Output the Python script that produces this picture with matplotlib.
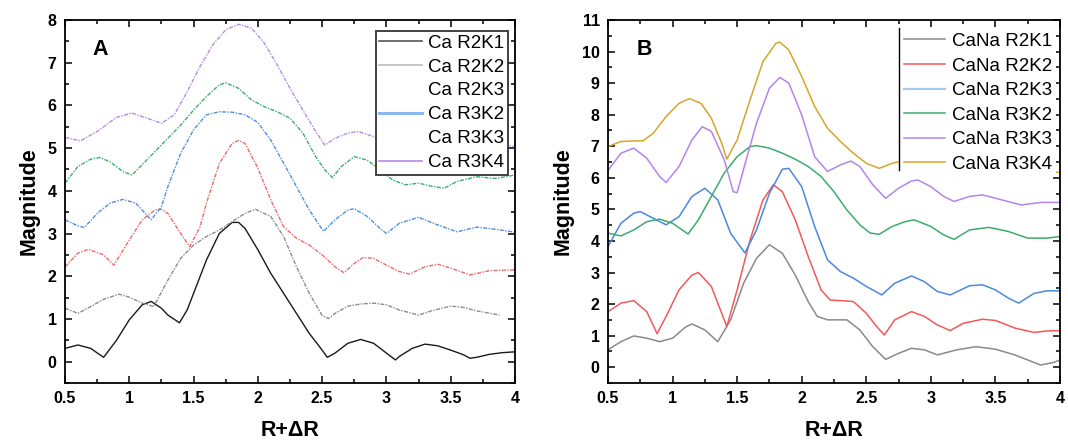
import matplotlib
matplotlib.use("Agg")
import matplotlib.pyplot as plt
from matplotlib.lines import Line2D
from matplotlib.ticker import MultipleLocator

plt.rcParams['font.family'] = ['Liberation Sans', 'DejaVu Sans']

# ---- panel A (Ca) ----
a_r2k1_x = [0.5, 0.6, 0.7, 0.8, 0.9, 1.0, 1.1, 1.17, 1.25, 1.3, 1.39, 1.45, 1.5, 1.6, 1.7, 1.8, 1.85, 1.9,
            2.0, 2.1, 2.2, 2.3, 2.4, 2.5, 2.54, 2.6, 2.7, 2.8, 2.9, 3.0, 3.07, 3.1, 3.2, 3.3, 3.4, 3.5,
            3.6, 3.65, 3.7, 3.8, 3.9, 4.0]
a_r2k1_y = [0.31, 0.39, 0.31, 0.10, 0.50, 0.98, 1.33, 1.41, 1.25, 1.09, 0.91, 1.21, 1.60, 2.38, 3.00, 3.26,
            3.26, 3.12, 2.62, 2.07, 1.60, 1.13, 0.66, 0.27, 0.10, 0.20, 0.43, 0.52, 0.43, 0.20, 0.04, 0.12,
            0.31, 0.41, 0.37, 0.27, 0.16, 0.08, 0.10, 0.17, 0.21, 0.23]

a_r2k2_x = [0.5, 0.6, 0.7, 0.8, 0.92, 1.0, 1.1, 1.19, 1.3, 1.4, 1.5, 1.6, 1.7, 1.8, 1.9, 1.98, 2.1, 2.2,
            2.3, 2.4, 2.5, 2.55, 2.6, 2.7, 2.8, 2.9, 3.0, 3.1, 3.25, 3.35, 3.5, 3.6, 3.7, 3.88]
a_r2k2_y = [1.25, 1.13, 1.29, 1.46, 1.58, 1.51, 1.37, 1.29, 1.91, 2.42, 2.73, 2.93, 3.08, 3.28, 3.47, 3.57,
            3.40, 2.93, 2.22, 1.60, 1.08, 1.01, 1.13, 1.30, 1.35, 1.37, 1.33, 1.21, 1.09, 1.19, 1.30, 1.27,
            1.19, 1.09]

a_r2k3_x = [0.5, 0.6, 0.68, 0.8, 0.88, 1.0, 1.1, 1.2, 1.25, 1.3, 1.4, 1.47, 1.55, 1.6, 1.7, 1.8, 1.85, 1.9,
            2.0, 2.1, 2.2, 2.3, 2.4, 2.5, 2.6, 2.67, 2.75, 2.82, 2.9, 3.0, 3.1, 3.18, 3.3, 3.4, 3.5, 3.65,
            3.8, 4.0]
a_r2k3_y = [2.22, 2.54, 2.63, 2.50, 2.26, 2.85, 3.32, 3.55, 3.57, 3.47, 3.00, 2.69, 3.16, 3.71, 4.64, 5.11,
            5.18, 5.11, 4.53, 3.79, 3.16, 2.89, 2.73, 2.50, 2.22, 2.08, 2.30, 2.44, 2.42, 2.26, 2.11, 2.05,
            2.22, 2.28, 2.19, 2.03, 2.13, 2.15]

a_r3k2_x = [0.5, 0.6, 0.65, 0.75, 0.85, 0.95, 1.05, 1.1, 1.17, 1.25, 1.3, 1.4, 1.5, 1.6, 1.7, 1.8, 1.9, 2.0,
            2.1, 2.2, 2.3, 2.4, 2.51, 2.6, 2.7, 2.75, 2.85, 2.95, 3.0, 3.1, 3.25, 3.4, 3.55, 3.7, 3.85, 4.0]
a_r3k2_y = [3.32, 3.18, 3.14, 3.47, 3.71, 3.80, 3.71, 3.55, 3.32, 3.63, 4.10, 4.88, 5.43, 5.78, 5.85, 5.84,
            5.78, 5.60, 5.19, 4.65, 4.10, 3.55, 3.05, 3.32, 3.55, 3.58, 3.40, 3.12, 3.00, 3.24, 3.38, 3.20,
            3.04, 3.15, 3.10, 3.03]

a_r3k3_x = [0.5, 0.6, 0.7, 0.77, 0.85, 0.95, 1.02, 1.1, 1.2, 1.3, 1.4, 1.5, 1.6, 1.7, 1.75, 1.85, 1.95, 2.05,
            2.15, 2.25, 2.35, 2.45, 2.52, 2.58, 2.65, 2.75, 2.85, 2.95, 3.05, 3.15, 3.25, 3.35, 3.45, 3.55,
            3.7, 3.85, 4.0]
a_r3k3_y = [4.18, 4.57, 4.74, 4.78, 4.68, 4.45, 4.37, 4.61, 4.92, 5.23, 5.54, 5.89, 6.21, 6.48, 6.53, 6.40,
            6.13, 5.97, 5.85, 5.70, 5.35, 4.80, 4.49, 4.31, 4.57, 4.80, 4.72, 4.49, 4.25, 4.14, 4.18, 4.11,
            4.06, 4.22, 4.33, 4.29, 4.37]

a_r3k4_x = [0.5, 0.62, 0.75, 0.9, 1.02, 1.12, 1.25, 1.35, 1.45, 1.55, 1.65, 1.75, 1.85, 1.95, 2.05, 2.15,
            2.25, 2.35, 2.45, 2.52, 2.6, 2.7, 2.78, 2.9, 3.0, 3.1, 3.25, 3.4, 3.55, 3.7, 3.85, 4.0]
a_r3k4_y = [5.25, 5.17, 5.39, 5.72, 5.82, 5.72, 5.58, 5.78, 6.32, 6.91, 7.42, 7.77, 7.90, 7.81, 7.46, 6.95,
            6.40, 5.89, 5.39, 5.07, 5.23, 5.35, 5.39, 5.27, 5.12, 5.05, 5.20, 5.25, 5.10, 5.05, 5.12, 5.03]

# ---- panel B (CaNa) ----
b_r2k1_x = [0.5, 0.6, 0.7, 0.8, 0.9, 1.0, 1.1, 1.15, 1.25, 1.35, 1.45, 1.55, 1.65, 1.75, 1.85, 1.95, 2.05,
            2.12, 2.2, 2.35, 2.45, 2.55, 2.65, 2.75, 2.85, 2.95, 3.05, 3.2, 3.35, 3.5, 3.65, 3.75, 3.85,
            3.95, 4.0]
b_r2k1_y = [0.55, 0.81, 0.99, 0.92, 0.81, 0.92, 1.27, 1.37, 1.18, 0.81, 1.50, 2.66, 3.45, 3.88, 3.61, 2.92,
            2.08, 1.61, 1.50, 1.50, 1.18, 0.65, 0.25, 0.44, 0.60, 0.55, 0.39, 0.55, 0.65, 0.57, 0.39, 0.23,
            0.07, 0.15, 0.23]

b_r2k2_x = [0.5, 0.6, 0.7, 0.8, 0.88, 0.95, 1.05, 1.15, 1.2, 1.3, 1.42, 1.5, 1.6, 1.7, 1.78, 1.85, 1.95,
            2.05, 2.15, 2.22, 2.3, 2.4, 2.5, 2.58, 2.64, 2.72, 2.85, 2.95, 3.05, 3.15, 3.25, 3.4, 3.5, 3.65,
            3.8, 3.9, 4.0]
b_r2k2_y = [1.76, 2.03, 2.11, 1.76, 1.06, 1.61, 2.45, 2.92, 3.00, 2.56, 1.29, 2.45, 4.03, 5.30, 5.78, 5.56,
            4.67, 3.51, 2.45, 2.13, 2.11, 2.08, 1.71, 1.29, 1.02, 1.50, 1.76, 1.61, 1.34, 1.16, 1.39, 1.52,
            1.48, 1.24, 1.10, 1.15, 1.16]

b_r2k3_x = [0.5, 0.6, 0.7, 0.75, 0.85, 0.95, 1.05, 1.15, 1.25, 1.35, 1.45, 1.56, 1.65, 1.75, 1.85, 1.9,
            2.0, 2.1, 2.2, 2.3, 2.4, 2.5, 2.62, 2.72, 2.85, 2.95, 3.05, 3.15, 3.3, 3.4, 3.5, 3.6, 3.68, 3.8,
            3.9, 4.0]
b_r2k3_y = [3.82, 4.56, 4.88, 4.93, 4.72, 4.51, 4.77, 5.41, 5.67, 5.30, 4.24, 3.62, 4.35, 5.51, 6.27, 6.30,
            5.72, 4.46, 3.40, 3.03, 2.82, 2.56, 2.29, 2.66, 2.89, 2.71, 2.40, 2.29, 2.58, 2.61, 2.45, 2.19,
            2.03, 2.34, 2.42, 2.42]

b_r3k2_x = [0.5, 0.6, 0.7, 0.8, 0.9, 1.0, 1.12, 1.2, 1.3, 1.4, 1.5, 1.6, 1.65, 1.75, 1.85, 1.95, 2.05, 2.15,
            2.25, 2.35, 2.45, 2.53, 2.6, 2.7, 2.8, 2.87, 3.0, 3.1, 3.18, 3.3, 3.45, 3.6, 3.75, 3.9, 4.0]
b_r3k2_y = [4.25, 4.16, 4.35, 4.61, 4.69, 4.56, 4.22, 4.67, 5.41, 6.15, 6.67, 6.99, 7.02, 6.94, 6.78, 6.59,
            6.36, 6.04, 5.56, 4.98, 4.51, 4.25, 4.21, 4.46, 4.61, 4.67, 4.46, 4.19, 4.05, 4.35, 4.43, 4.30,
            4.09, 4.09, 4.14]

b_r3k3_x = [0.5, 0.6, 0.7, 0.8, 0.9, 0.95, 1.05, 1.15, 1.23, 1.3, 1.4, 1.47, 1.5, 1.57, 1.65, 1.75, 1.83,
            1.9, 2.0, 2.1, 2.2, 2.3, 2.38, 2.45, 2.55, 2.65, 2.75, 2.85, 2.9, 3.0, 3.1, 3.18, 3.3, 3.4, 3.55,
            3.7, 3.85, 4.0]
b_r3k3_y = [6.23, 6.78, 6.94, 6.62, 6.04, 5.85, 6.36, 7.20, 7.62, 7.47, 6.57, 5.56, 5.53, 6.57, 7.73, 8.84,
            9.18, 9.00, 7.99, 6.67, 6.20, 6.41, 6.53, 6.36, 5.78, 5.35, 5.67, 5.90, 5.93, 5.72, 5.41, 5.25,
            5.41, 5.46, 5.30, 5.14, 5.22, 5.22]

b_r3k4_x = [0.5, 0.6, 0.7, 0.77, 0.85, 0.95, 1.05, 1.13, 1.22, 1.3, 1.38, 1.42, 1.5, 1.6, 1.7, 1.8, 1.83,
            1.9, 2.0, 2.1, 2.2, 2.3, 2.4, 2.5, 2.6, 2.7, 2.8, 2.9, 3.0, 3.1, 3.18, 3.3, 3.4, 3.6, 3.8, 4.0]
b_r3k4_y = [6.99, 7.15, 7.17, 7.17, 7.41, 7.94, 8.36, 8.51, 8.36, 7.89, 7.10, 6.59, 7.20, 8.47, 9.68, 10.26,
            10.30, 10.05, 9.21, 8.26, 7.57, 7.15, 6.78, 6.46, 6.30, 6.46, 6.55, 6.60, 6.45, 6.20, 6.04, 6.20,
            6.25, 6.23, 6.22, 6.17]

a_labels = ['Ca R2K1', 'Ca R2K2', 'Ca R2K3', 'Ca R3K2', 'Ca R3K3', 'Ca R3K4']
b_labels = ['CaNa R2K1', 'CaNa R2K2', 'CaNa R2K3', 'CaNa R3K2', 'CaNa R3K3', 'CaNa R3K4']

a_series = [(a_r2k1_x, a_r2k1_y), (a_r2k2_x, a_r2k2_y), (a_r2k3_x, a_r2k3_y),
            (a_r3k2_x, a_r3k2_y), (a_r3k3_x, a_r3k3_y), (a_r3k4_x, a_r3k4_y)]
b_series = [(b_r2k1_x, b_r2k1_y), (b_r2k2_x, b_r2k2_y), (b_r2k3_x, b_r2k3_y),
            (b_r3k2_x, b_r3k2_y), (b_r3k3_x, b_r3k3_y), (b_r3k4_x, b_r3k4_y)]

a_colors = ['#1a1a1a', '#8c8c8c', '#f06a6a', '#4f8fe6', '#3fae6e', '#b58be8']
b_colors = ['#8a8a8a', '#f05a5a', '#4a88e4', '#3dac6a', '#b385ea', '#d6a62a']
dashdot = (0, (3, 1, 1, 1))

fig = plt.figure(figsize=(10.68, 4.44), dpi=100)
axA = fig.add_axes([0.0609, 0.1374, 0.4213, 0.8176])
axB = fig.add_axes([0.5693, 0.1374, 0.4232, 0.8176])

for i, (x, y) in enumerate(a_series):
    ls = '-' if i == 0 else dashdot
    axA.plot(x, y, color=a_colors[i], lw=1.0, ls=ls)

for i, (x, y) in enumerate(b_series):
    axB.plot(x, y, color=b_colors[i], lw=1.1)

for ax, top in ((axA, 8), (axB, 11)):
    ax.set_xlim(0.5, 4)
    ax.set_ylim(-0.5, top)
    ax.xaxis.set_major_locator(MultipleLocator(0.5))
    ax.xaxis.set_minor_locator(MultipleLocator(0.25))
    ax.yaxis.set_major_locator(MultipleLocator(1))
    ax.yaxis.set_minor_locator(MultipleLocator(0.5))
    ax.xaxis.set_major_formatter(matplotlib.ticker.FuncFormatter(lambda v, p: f'{v:g}'))
    ax.tick_params(which='both', direction='in', top=True, right=True, width=1.1)
    ax.tick_params(which='major', length=5, labelsize=11.5, pad=6)
    ax.tick_params(which='minor', length=3)
    for lab in ax.get_xticklabels() + ax.get_yticklabels():
        lab.set_fontweight('bold')
    for s in ax.spines.values():
        s.set_linewidth(1.3)
    ax.set_xlabel('R+ΔR', fontsize=15.5, fontweight='bold', labelpad=10)
    ax.set_ylabel('Magnitude', fontsize=15.5, fontweight='bold', labelpad=6)

axA.text(0.078, 0.92, 'A', transform=axA.transAxes, fontsize=15.5, fontweight='bold',
         ha='center', va='center')
axB.text(0.08, 0.92, 'B', transform=axB.transAxes, fontsize=15.5, fontweight='bold',
         ha='center', va='center')

# legend A: two entries have no visible line
a_handles = [Line2D([], [], color='#555555', lw=1.2),
             Line2D([], [], color='#bbbbbb', lw=1.2),
             Line2D([], [], color='none'),
             Line2D([], [], color='#8ab8f0', lw=2.2),
             Line2D([], [], color='none'),
             Line2D([], [], color='#b58be8', lw=1.2)]
legA = axA.legend(a_handles, a_labels, loc='upper left', bbox_to_anchor=(0.69, 0.97),
                  borderaxespad=0, fontsize=13.5, frameon=True, fancybox=False,
                  handlelength=2.3, handletextpad=0.3, labelspacing=0.36, borderpad=0.2)
legA.get_frame().set_edgecolor('#333333')
legA.get_frame().set_linewidth(1.3)
legA.get_frame().set_alpha(1)

b_handles = [Line2D([], [], color=c, lw=1.1) for c in b_colors]
b_handles[2] = Line2D([], [], color='#a8c8f4', lw=1.6)
legB = axB.legend(b_handles, b_labels, loc='upper left', bbox_to_anchor=(0.646, 0.975),
                  borderaxespad=0, fontsize=13.5, frameon=True, fancybox=False,
                  handlelength=2.2, handletextpad=0.35, labelspacing=0.4, borderpad=0.2)
legB.get_frame().set_edgecolor('none')
legB.get_frame().set_alpha(1)
axB.plot([0.644, 0.644], [0.978, 0.587], transform=axB.transAxes, color='black', lw=1.0,
         zorder=6, clip_on=False)

fig.savefig('out.png', dpi=100)
